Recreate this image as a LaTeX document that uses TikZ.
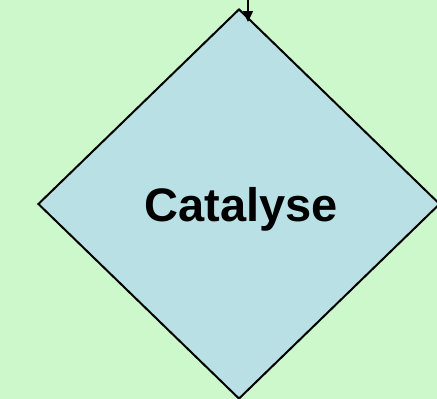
\documentclass[tikz,border=0pt]{standalone}
\usepackage{fontspec}
\setmainfont{Liberation Sans}
\usetikzlibrary{shapes.geometric,arrows.meta}
\definecolor{bggreen}{RGB}{204,248,204}
\definecolor{dfill}{RGB}{185,224,228}
\tikzset{
  decision/.style={diamond, draw=black, line width=2pt, fill=dfill, inner sep=0pt,
    minimum width=402pt, minimum height=390pt},
  label/.style={font=\bfseries\fontsize{47}{53}\selectfont, inner sep=0pt},
  flow/.style={draw=black, line width=1.5pt, -{Triangle[length=11pt,width=10pt]}}
}
\begin{document}
\begin{tikzpicture}[x=1pt,y=-1pt]
\fill[bggreen] (0,0) rectangle (437,399);
\useasboundingbox (0,0) rectangle (437,399);
\node[decision] (d) at (239,204) {};
\node[label] (t) at (241,209) {Catalyse};
\coordinate (in) at (248,0);
\coordinate (tip) at (248,22);
\draw[flow] (in) -- (tip);
\end{tikzpicture}
\end{document}
